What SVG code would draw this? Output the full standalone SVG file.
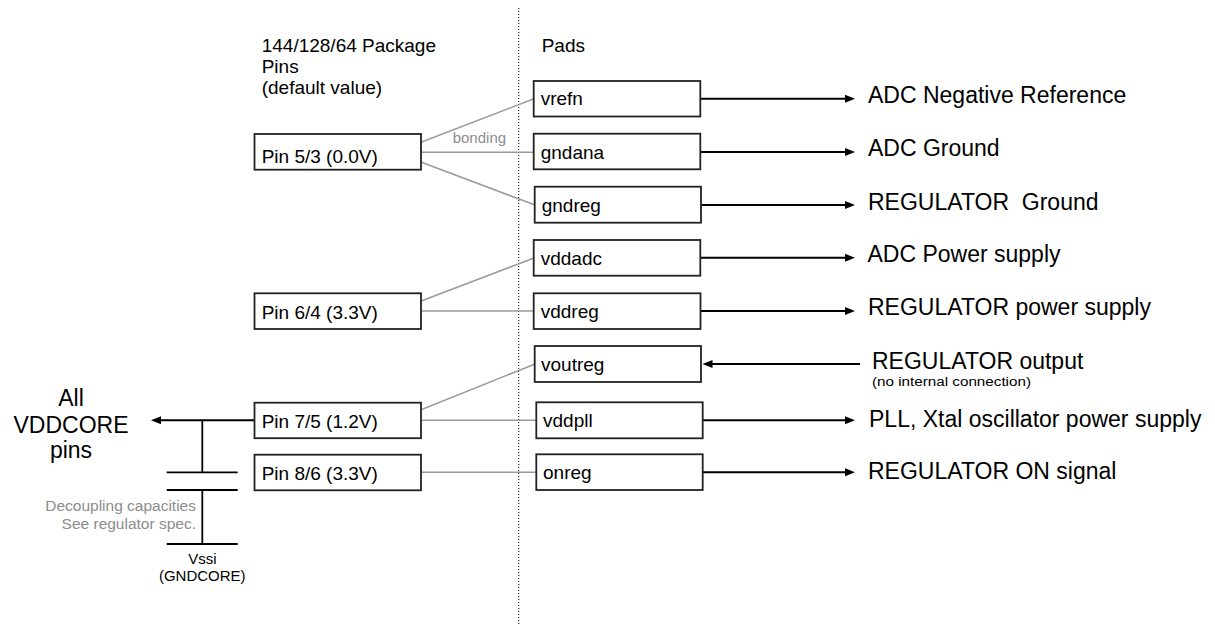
<svg xmlns="http://www.w3.org/2000/svg" width="1215" height="629" viewBox="0 0 1215 629">
<style>
  text { font-family: "Liberation Sans", Arial, sans-serif; fill: #000; }
  .box { fill: #fff; stroke: #222; stroke-width: 1.8; }
  .t19 { font-size: 19px; }
  .lbl { font-size: 23px; white-space: pre; }
  .gray { fill: #8c8c8c; font-size: 15px; }
  .dec { fill: #8c8c8c; font-size: 15.5px; }
  .bond { stroke: #9a9a9a; stroke-width: 1.5; fill: none; }
  .wire { stroke: #000; stroke-width: 2; fill: none; }
  .thin { stroke: #000; stroke-width: 1.8; fill: none; }
</style>
<defs>
  <marker id="ah" viewBox="0 0 10 10" refX="2" refY="5" markerWidth="11" markerHeight="10" markerUnits="userSpaceOnUse" orient="auto">
    <path d="M0,1 L10,5 L0,9 z" fill="#000"/>
  </marker>
</defs>
<rect width="1215" height="629" fill="#fff"/>

<!-- separator -->
<line x1="518.7" y1="8" x2="518.7" y2="626" stroke="#000" stroke-width="1" stroke-dasharray="1,2"/>

<!-- headers -->
<g id="header-pins">
  <text class="t19" x="261.7" y="52.3">144/128/64 Package</text>
  <text class="t19" x="261.7" y="73.3">Pins</text>
  <text class="t19" x="261.7" y="94.3">(default value)</text>
</g>
<g id="header-pads">
  <text class="t19" x="541.7" y="52.3">Pads</text>
</g>

<!-- connectors -->
<g id="connectors">
  <polyline class="bond" points="534,98.7 395,152.3 534,152.3"/>
  <line class="bond" x1="395" y1="152.3" x2="535" y2="205"/>
  <polyline class="bond" points="534,258 395,311 534,311"/>
  <polyline class="bond" points="535,364 395,420.3 536,420.3"/>
  <line class="bond" x1="395" y1="472.3" x2="536" y2="472.3"/>
  <text class="gray" x="452.7" y="143.3">bonding</text>

  <line class="wire" x1="700.3" y1="98.7" x2="847" y2="98.7" marker-end="url(#ah)"/>
  <line class="wire" x1="700.3" y1="152" x2="847" y2="152" marker-end="url(#ah)"/>
  <line class="wire" x1="701" y1="205" x2="847" y2="205" marker-end="url(#ah)"/>
  <line class="wire" x1="700.3" y1="257.8" x2="847" y2="257.8" marker-end="url(#ah)"/>
  <line class="wire" x1="700.5" y1="311" x2="847" y2="311" marker-end="url(#ah)"/>
  <line class="wire" x1="860" y1="364" x2="710.5" y2="364" marker-end="url(#ah)"/>
  <line class="wire" x1="702.7" y1="420.3" x2="847" y2="420.3" marker-end="url(#ah)"/>
  <line class="wire" x1="700" y1="472.3" x2="847" y2="472.3" marker-end="url(#ah)"/>

  <line class="wire" x1="254.5" y1="420.3" x2="159" y2="420.3" marker-end="url(#ah)"/>
  <line class="thin" x1="202.3" y1="420.3" x2="202.3" y2="472.3"/>
  <line class="thin" x1="166.7" y1="472.3" x2="237.7" y2="472.3"/>
  <line class="thin" x1="166.7" y1="490" x2="237.7" y2="490"/>
  <line class="thin" x1="202.3" y1="490" x2="202.3" y2="544"/>
  <line class="thin" x1="166.7" y1="544" x2="237.7" y2="544"/>
</g>

<!-- pins -->
<g id="pin53">
  <rect class="box" x="254.5" y="134" width="166.5" height="35.7"/>
  <text class="t19" x="261.7" y="162.7">Pin 5/3 (0.0V)</text>
</g>
<g id="pin64">
  <rect class="box" x="254.5" y="293.3" width="166.5" height="35.7"/>
  <text class="t19" x="261.7" y="319.3">Pin 6/4 (3.3V)</text>
</g>
<g id="pin75">
  <rect class="box" x="254.5" y="402.7" width="166.5" height="35.5"/>
  <text class="t19" x="261.7" y="427.7">Pin 7/5 (1.2V)</text>
</g>
<g id="pin86">
  <rect class="box" x="254.5" y="454.7" width="166.5" height="35.6"/>
  <text class="t19" x="261.7" y="480">Pin 8/6 (3.3V)</text>
</g>

<!-- pads -->
<g id="pad-vrefn">
  <rect class="box" x="533.7" y="81" width="166.6" height="35.5"/>
  <text class="t19" x="540.7" y="105.4">vrefn</text>
</g>
<g id="pad-gndana">
  <rect class="box" x="533.7" y="133.7" width="166.6" height="35.6"/>
  <text class="t19" x="540.7" y="158.7">gndana</text>
</g>
<g id="pad-gndreg">
  <rect class="box" x="534.7" y="186.7" width="166.3" height="36"/>
  <text class="t19" x="541.7" y="211.7">gndreg</text>
</g>
<g id="pad-vddadc">
  <rect class="box" x="533.7" y="240" width="166.6" height="35.7"/>
  <text class="t19" x="540.7" y="264.5">vddadc</text>
</g>
<g id="pad-vddreg">
  <rect class="box" x="533.7" y="293.3" width="166.8" height="35.7"/>
  <text class="t19" x="540.7" y="317.8">vddreg</text>
</g>
<g id="pad-voutreg">
  <rect class="box" x="534.7" y="346" width="166.3" height="36"/>
  <text class="t19" x="541" y="370.8">voutreg</text>
</g>
<g id="pad-vddpll">
  <rect class="box" x="536.3" y="402.3" width="166.4" height="36"/>
  <text class="t19" x="543" y="427">vddpll</text>
</g>
<g id="pad-onreg">
  <rect class="box" x="536.3" y="454.3" width="166.4" height="35.7"/>
  <text class="t19" x="543" y="479">onreg</text>
</g>

<!-- right labels -->
<g id="labels">
  <text class="lbl" x="868" y="103">ADC Negative Reference</text>
  <text class="lbl" x="868" y="156">ADC Ground</text>
  <text class="lbl" x="868" y="209.5">REGULATOR  Ground</text>
  <text class="lbl" x="867.5" y="262">ADC Power supply</text>
  <text class="lbl" x="868" y="315">REGULATOR power supply</text>
  <text class="lbl" x="872" y="369">REGULATOR output</text>
  <text x="872" y="386" font-size="12" textLength="159" lengthAdjust="spacingAndGlyphs">(no internal connection)</text>
  <text class="lbl" x="869" y="427">PLL, Xtal oscillator power supply</text>
  <text class="lbl" x="868" y="478.5">REGULATOR ON signal</text>
</g>

<!-- left side -->
<g id="vddcore">
  <text font-size="23" text-anchor="middle" x="71" y="406">All</text>
  <text font-size="23" text-anchor="middle" x="71" y="432.7">VDDCORE</text>
  <text font-size="23" text-anchor="middle" x="71" y="458.3">pins</text>
</g>
<g id="decoupling">
  <text class="dec" text-anchor="end" x="196" y="511">Decoupling capacities</text>
  <text class="dec" text-anchor="end" x="196" y="529">See regulator spec.</text>
</g>
<g id="vssi">
  <text font-size="15" text-anchor="middle" x="202.3" y="564">Vssi</text>
  <text font-size="15" text-anchor="middle" x="202.3" y="581">(GNDCORE)</text>
</g>
</svg>
